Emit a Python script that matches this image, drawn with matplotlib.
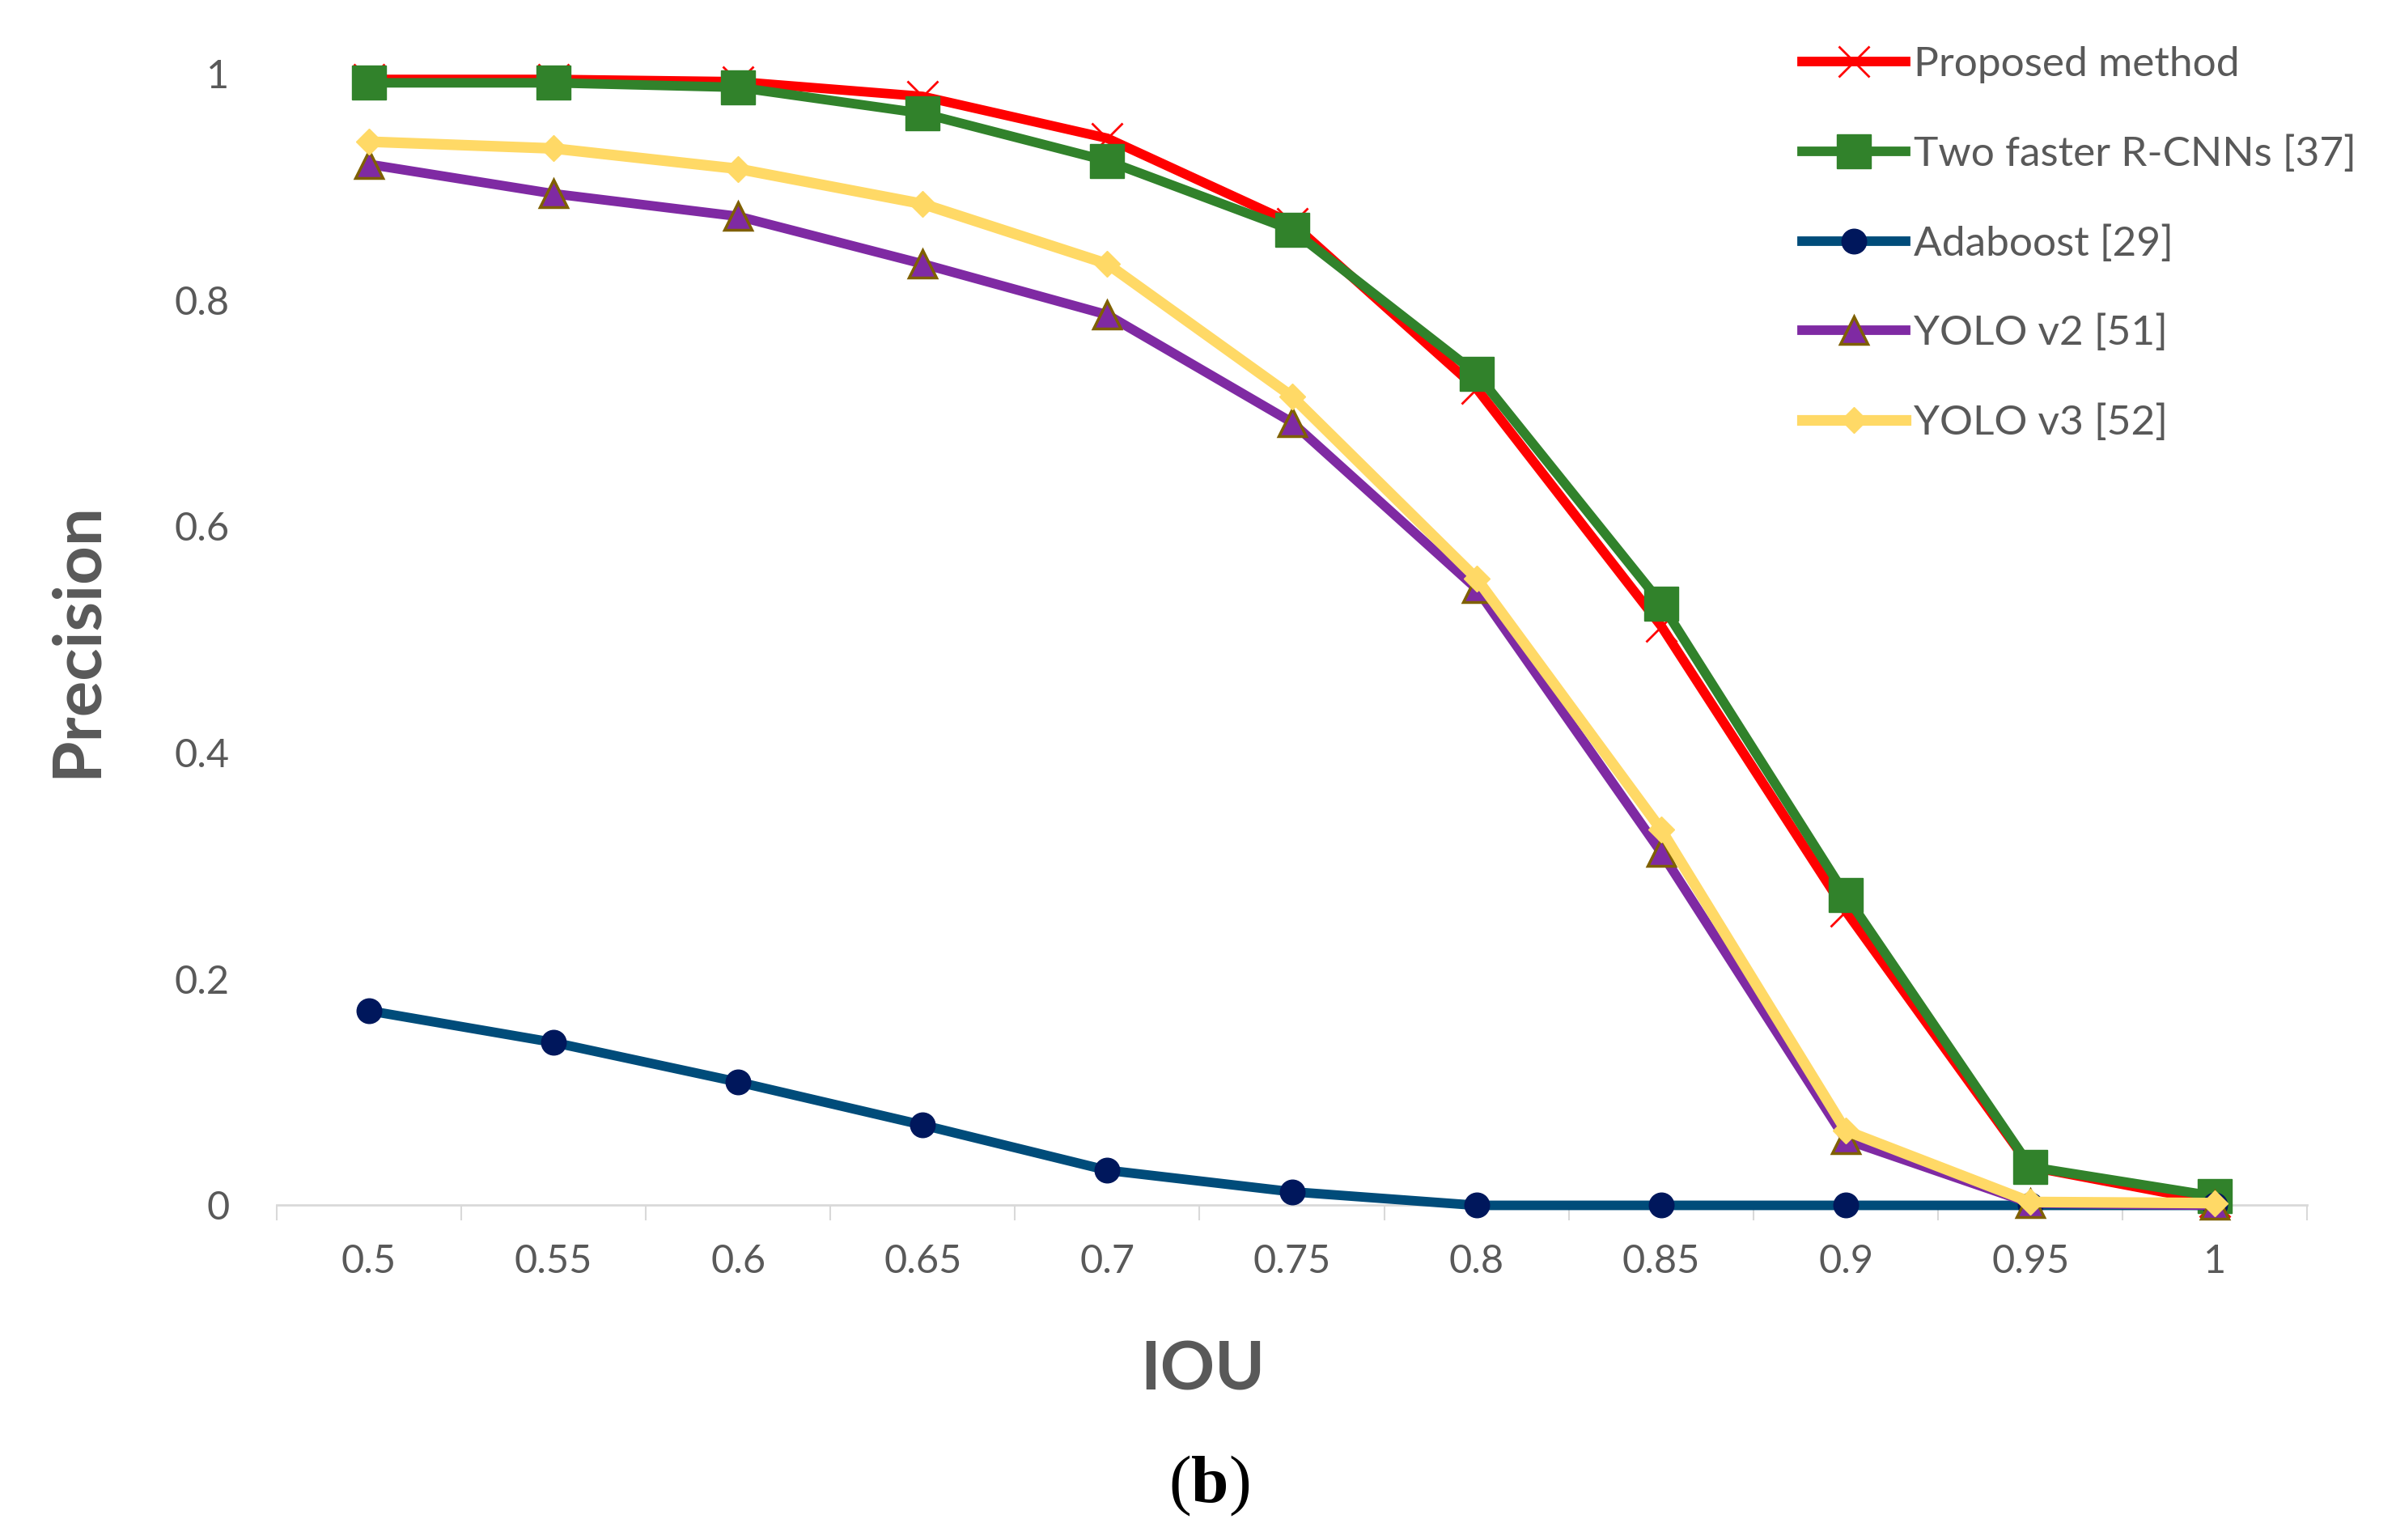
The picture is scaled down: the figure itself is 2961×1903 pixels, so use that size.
import matplotlib.pyplot as plt
from matplotlib.ticker import FixedLocator, NullFormatter

plt.rcParams['font.family'] = ['Lato', 'DejaVu Sans']
plt.rcParams['mathtext.fontset'] = 'custom'
plt.rcParams['mathtext.rm'] = 'Liberation Serif'
plt.rcParams['mathtext.bf'] = 'Liberation Serif:bold'

iou = ['0.5', '0.55', '0.6', '0.65', '0.7', '0.75', '0.8', '0.85', '0.9', '0.95', '1']

proposed = [0.995, 0.995, 0.993, 0.980, 0.943, 0.868, 0.722, 0.512, 0.260, 0.034, 0.003]
faster_rcnn = [0.992, 0.992, 0.988, 0.965, 0.923, 0.862, 0.735, 0.532, 0.274, 0.034, 0.008]
adaboost = [0.172, 0.144, 0.109, 0.071, 0.031, 0.012, 0.0, 0.0, 0.0, 0.0, 0.0]
yolo_v2 = [0.920, 0.894, 0.874, 0.832, 0.787, 0.692, 0.545, 0.312, 0.058, 0.002, 0.0]
yolo_v3 = [0.940, 0.934, 0.916, 0.885, 0.832, 0.715, 0.554, 0.332, 0.066, 0.003, 0.002]

yticks = [0, 0.2, 0.4, 0.6, 0.8, 1]
ytick_labels = ['0', '0.2', '0.4', '0.6', '0.8', '1']

grey = '#595959'
x = list(range(len(iou)))

fig = plt.figure(figsize=(29.61, 19.03), dpi=100)
ax = fig.add_axes([0.1154, 0.2173, 0.8476, 0.7348])

ax.plot(x, proposed, color='#FF0000', lw=8.5, marker='x', ms=28, mew=2,
        label='Proposed method', clip_on=False, zorder=3)
ax.plot(x, faster_rcnn, color='#31822B', lw=8.5, marker='s', ms=30,
        label='Two faster R-CNNs [37]', clip_on=False, zorder=4)
ax.plot(x, adaboost, color='#004C7A', lw=8.5, marker='o', ms=22,
        mfc='#00175C', mec='#00175C', label='Adaboost [29]', clip_on=False, zorder=5)
ax.plot(x, yolo_v2, color='#7F2AA3', lw=8.5, marker='^', ms=24, mfc='#7F2AA3',
        mec='#7F6000', mew=2.5, label='YOLO v2 [51]', clip_on=False, zorder=6)
ax.plot(x, yolo_v3, color='#FFD966', lw=9.5, marker='D', ms=16,
        mfc='#FFD966', mec='#FFD966', label='YOLO v3 [52]', clip_on=False, zorder=7)

ax.set_xlim(-0.5, len(iou) - 0.5)
ax.set_ylim(0, 1)
ax.set_xticks(x)
ax.set_xticklabels(iou)
ax.xaxis.set_minor_locator(FixedLocator([i - 0.5 for i in range(len(iou) + 1)]))
ax.xaxis.set_minor_formatter(NullFormatter())
ax.set_yticks(yticks)
ax.set_yticklabels(ytick_labels)

for s in ['left', 'right', 'top']:
    ax.spines[s].set_visible(False)
ax.spines['bottom'].set_color('#D9D9D9')
ax.spines['bottom'].set_linewidth(2)

ax.tick_params(axis='x', which='major', length=0, pad=34, labelsize=35, labelcolor=grey)
ax.tick_params(axis='x', which='minor', length=14, width=1.5, color='#D9D9D9')
ax.tick_params(axis='y', length=0, pad=42, labelsize=35, labelcolor=grey)

ax.set_ylabel('Precision', fontsize=60, fontweight='bold', color=grey, va='center')
ax.yaxis.set_label_coords(-0.098, 0.5)
ax.set_xlabel('IOU', fontsize=60, fontweight='bold', color=grey, va='center')
ax.xaxis.set_label_coords(0.456, -0.1465)

leg = ax.legend(loc='upper left', bbox_to_anchor=(0.752, 0.970),
                bbox_transform=fig.transFigure, frameon=False, fontsize=37,
                handlelength=2.5, handletextpad=0.2, labelspacing=1.25,
                borderpad=0, borderaxespad=0, numpoints=1)
for t in leg.get_texts():
    t.set_color(grey)

fig.text(0.5045, 0.035, r'($\mathbf{b}$)', fontsize=60, ha='center', va='center',
         family='Liberation Serif')

fig.savefig('out.png', dpi=100)
